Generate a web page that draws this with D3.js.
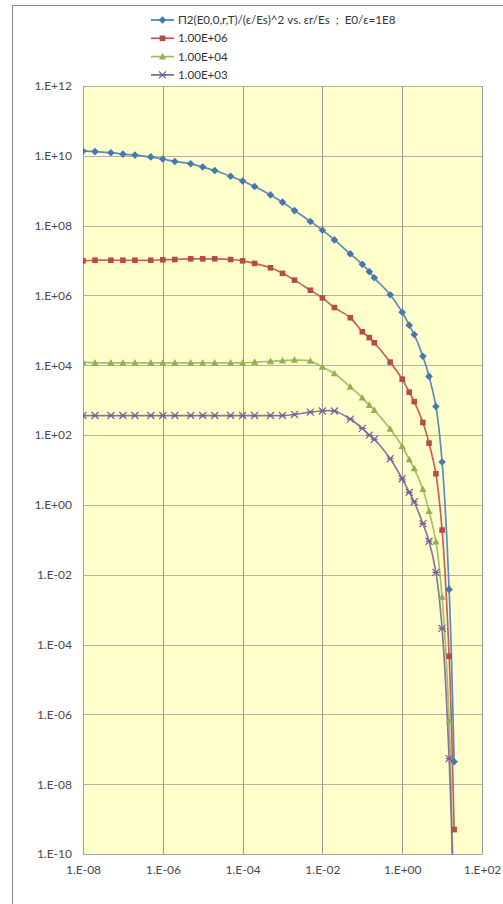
<!DOCTYPE html>
<html lang="en">
<head>
<meta charset="utf-8">
<script src="https://d3js.org/d3.v7.min.js"></script>
<style type="text/css">
body {
	margin: 0;
	background-color: #ffffff;
	font-family: Lato, "Liberation Sans", sans-serif;
}
.tick text {
	font-size: 12px;
	fill: #4a4a4a;
}
.legend text {
	font-size: 11.6px;
	fill: #333;
}
</style>
</head>
<body>
<script type="text/javascript">

var width = 503;
var height = 904;

// x values (εr/Es)
var xVals = [1e-8, 2e-8, 5e-8, 1e-7, 2e-7, 5e-7, 1e-6, 2e-6, 5e-6, 1e-5, 2e-5, 5e-5,
  1e-4, 2e-4, 5e-4, 1e-3, 2e-3, 5e-3, 1e-2, 2e-2, 5e-2, 0.1, 0.15, 0.2, 0.5,
  1, 1.5, 2, 3.3, 4.7, 7, 10, 15, 20];

// series values
var blueVals = [1.38e10, 1.32e10, 1.23e10, 1.12e10, 1.05e10, 9.3e9, 8.1e9, 6.9e9, 5.9e9, 4.8e9, 3.8e9, 2.6e9,
  1.9e9, 1.32e9, 7.6e8, 4.7e8, 2.7e8, 1.32e8, 7.4e7, 3.9e7, 1.55e7, 7.8e6, 4.8e6, 3.2e6, 1.05e6,
  3.3e5, 1.41e5, 7.6e4, 1.82e4, 4.8e3, 660, 17, 3.8e-3, 4.4e-8];

var redVals = [9.8e6, 1.02e7, 1.02e7, 1.02e7, 1.02e7, 1.02e7, 1.05e7, 1.07e7, 1.12e7, 1.12e7, 1.12e7, 1.07e7,
  9.8e6, 8.3e6, 6.2e6, 4.3e6, 2.75e6, 1.41e6, 8.5e5, 4.5e5, 2.3e5, 9.1e4, 6.2e4, 4.4e4, 1.23e4,
  4.0e3, 1.7e3, 910, 230, 59, 7.8, 0.19, 4.6e-5, 5.0e-10];

var greenVals = [1.23e4, 1.17e4, 1.17e4, 1.17e4, 1.17e4, 1.17e4, 1.17e4, 1.17e4, 1.17e4, 1.17e4, 1.17e4, 1.17e4,
  1.17e4, 1.23e4, 1.29e4, 1.35e4, 1.41e4, 1.32e4, 8.9e3, 5.8e3, 2.4e3, 1.17e3, 720, 520, 150,
  48, 20, 11, 2.8, 0.66, 0.089, 2.3e-3, 6.5e-7, 3e-13];

var purpleVals = [363, 363, 363, 363, 363, 363, 363, 363, 363, 363, 363, 363,
  363, 363, 363, 363, 389, 457, 490, 490, 288, 155, 100, 76, 21,
  5.6, 2.3, 1.23, 0.29, 0.091, 0.0117, 2.9e-4, 5.4e-8, 1e-12];

var seriesNames = ["\u03A02(E0,0,r,T)/(\u03B5/Es)^2 vs. \u03B5r/Es \u00A0; \u00A0E0/\u03B5=1E8", "1.00E+06", "1.00E+04", "1.00E+03"];
var seriesColors = ["#4a7ebb", "#c0504d", "#9bbb59", "#8064a2"];
var seriesMarkers = ["diamond", "square", "triangle", "cross"];

var xTicks = [1e-8, 1e-6, 1e-4, 1e-2, 1e0, 1e2];
var yTicks = [1e-10, 1e-8, 1e-6, 1e-4, 1e-2, 1e0, 1e2, 1e4, 1e6, 1e8, 1e10, 1e12];

var plot = {left: 83, right: 482, top: 86, bottom: 854};

var svg = d3.select("body")
  .append("svg")
  .attr("width", width)
  .attr("height", height);

// chart frame
svg.append("rect")
  .attr("x", 12.5)
  .attr("y", 5.5)
  .attr("width", width + 10)
  .attr("height", height + 10)
  .attr("fill", "#fff")
  .attr("stroke", "#8c8c8c");

var x = d3.scaleLog().domain([1e-8, 1e2]).range([plot.left, plot.right]);
var y = d3.scaleLog().domain([1e-10, 1e12]).range([plot.bottom, plot.top]);

function fmt(d) {
  var e = Math.round(Math.log10(d));
  var s = e < 0 ? "-" : "+";
  var a = Math.abs(e);
  return "1.E" + s + (a < 10 ? "0" : "") + a;
}

// plot area
svg.append("rect")
  .attr("x", plot.left)
  .attr("y", plot.top)
  .attr("width", plot.right - plot.left)
  .attr("height", plot.bottom - plot.top)
  .attr("fill", "#ffffcc");

// gridlines
svg.append("g")
  .selectAll("line")
  .data(yTicks)
  .enter().append("line")
  .attr("x1", plot.left).attr("x2", plot.right)
  .attr("y1", function(d) { return Math.round(y(d)) + 0.5; })
  .attr("y2", function(d) { return Math.round(y(d)) + 0.5; })
  .attr("stroke", "#b4b4a0")
  .attr("stroke-width", 1.2);

svg.append("g")
  .selectAll("line")
  .data(xTicks)
  .enter().append("line")
  .attr("y1", plot.top).attr("y2", plot.bottom)
  .attr("x1", function(d) { return Math.round(x(d)) + 0.5; })
  .attr("x2", function(d) { return Math.round(x(d)) + 0.5; })
  .attr("stroke", "#9a9a90")
  .attr("stroke-width", 1);

// axes
var xAxis = d3.axisBottom(x).tickValues(xTicks).tickFormat(fmt).tickSize(0).tickPadding(11);
svg.append("g")
  .attr("transform", "translate(0," + plot.bottom + ")")
  .call(xAxis)
  .call(function(g) { g.select(".domain").attr("stroke", "#a0a0a0"); });

var yAxis = d3.axisLeft(y).tickValues(yTicks).tickFormat(fmt).tickSize(0).tickPadding(11);
svg.append("g")
  .attr("transform", "translate(" + plot.left + ",0)")
  .call(yAxis)
  .call(function(g) { g.select(".domain").attr("stroke", "#a0a0a0"); });

svg.selectAll(".tick text").attr("font-family", "Lato, 'Liberation Sans', sans-serif");

// clip
svg.append("clipPath")
  .attr("id", "clip")
  .append("rect")
  .attr("x", plot.left).attr("y", plot.top)
  .attr("width", plot.right - plot.left)
  .attr("height", plot.bottom - plot.top);

var allSeries = [blueVals, redVals, greenVals, purpleVals];

var line = d3.line()
  .x(function(d) { return x(d[0]); })
  .y(function(d) { return y(d[1]); })
  .curve(d3.curveCatmullRom.alpha(0.5));

function drawMarker(g, type, color) {
  if (type === "diamond") {
    g.append("path").attr("d", "M0,-3.8L3.8,0L0,3.8L-3.8,0Z").attr("fill", color);
  } else if (type === "square") {
    g.append("rect").attr("x", -2.8).attr("y", -2.8).attr("width", 5.6).attr("height", 5.6).attr("fill", color);
  } else if (type === "triangle") {
    g.append("path").attr("d", "M0,-3.8L3.6,2.8L-3.6,2.8Z").attr("fill", color);
  } else {
    g.append("path").attr("d", "M-3.5,-3.5L3.5,3.5M-3.5,3.5L3.5,-3.5M-3.5,0L3.5,0")
      .attr("stroke", color).attr("stroke-width", 1.2).attr("fill", "none");
  }
}

var chart = svg.append("g").attr("clip-path", "url(#clip)");

allSeries.forEach(function(vals, i) {
  var pts = xVals.map(function(xv, j) { return [xv, vals[j]]; });
  chart.append("path")
    .datum(pts)
    .attr("d", line)
    .attr("fill", "none")
    .attr("stroke", seriesColors[i])
    .attr("stroke-opacity", 0.9)
    .attr("stroke-width", 1.7);
});

allSeries.forEach(function(vals, i) {
  var pts = xVals.map(function(xv, j) { return [xv, vals[j]]; })
    .filter(function(d) { return d[1] >= 1e-10; });
  chart.selectAll(".m" + i)
    .data(pts)
    .enter().append("g")
    .attr("transform", function(d) { return "translate(" + x(d[0]) + "," + y(d[1]) + ")"; })
    .each(function() { drawMarker(d3.select(this), seriesMarkers[i], d3.color(seriesColors[i]).darker(0.15)); });
});

// legend
var legend = svg.append("g").attr("class", "legend");
seriesNames.forEach(function(name, i) {
  var ly = 20 + i * 18.3;
  legend.append("line")
    .attr("x1", 151).attr("x2", 174)
    .attr("y1", ly).attr("y2", ly)
    .attr("stroke", seriesColors[i]).attr("stroke-width", 1.7);
  var g = legend.append("g").attr("transform", "translate(162.5," + ly + ")");
  drawMarker(g, seriesMarkers[i], d3.color(seriesColors[i]).darker(0.15));
  legend.append("text")
    .attr("x", 178).attr("y", ly)
    .attr("dy", "0.35em")
    .text(name);
});

</script>
</body>
</html>
